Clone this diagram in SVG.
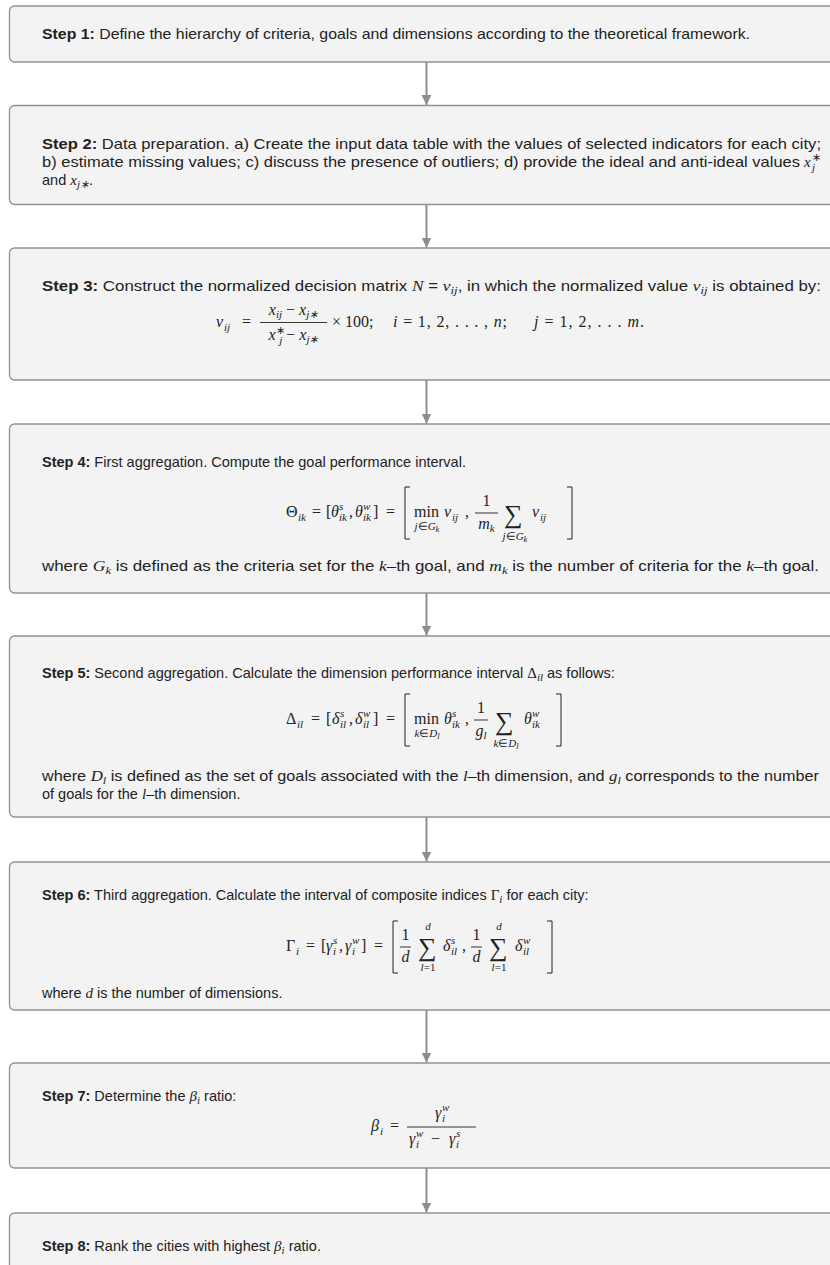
<svg xmlns="http://www.w3.org/2000/svg" width="830" height="1265" viewBox="0 0 830 1265">
<defs>
<style>
.box{fill:#f3f3f3;stroke:#929292;stroke-width:1.3}
.n{font-family:"Liberation Sans",Arial,sans-serif;font-size:14.5px;fill:#222}
.b{font-weight:bold}
.f{font-family:"Liberation Serif","Times New Roman",serif;font-size:16px;fill:#222}
.fi{font-family:"Liberation Serif","Times New Roman",serif;font-style:italic}
.im{font-size:15px}
.sc{font-size:11px}
.ss{font-size:8.5px}
.sum{font-size:26px}
.bar{stroke:#222;stroke-width:0.9}
.brk{fill:none;stroke:#222;stroke-width:1}
.conn{stroke:#8e8e8e;stroke-width:2;fill:none}
</style>
<marker id="ah" markerUnits="userSpaceOnUse" markerWidth="11" markerHeight="11" refX="10" refY="5.5" orient="auto" viewBox="0 0 11 11"><path d="M0,0.5 L10,5.5 L0,10.5 z" fill="#8e8e8e"/></marker>
</defs>
<rect width="830" height="1265" fill="#ffffff"/>

<g id="connectors">
<line class="conn" x1="426.5" y1="62" x2="426.5" y2="105" marker-end="url(#ah)"/>
<line class="conn" x1="426.5" y1="204.5" x2="426.5" y2="247.5" marker-end="url(#ah)"/>
<line class="conn" x1="426.5" y1="380" x2="426.5" y2="423.5" marker-end="url(#ah)"/>
<line class="conn" x1="426.5" y1="593" x2="426.5" y2="635.5" marker-end="url(#ah)"/>
<line class="conn" x1="426.5" y1="817" x2="426.5" y2="861.5" marker-end="url(#ah)"/>
<line class="conn" x1="426.5" y1="1010" x2="426.5" y2="1062.5" marker-end="url(#ah)"/>
<line class="conn" x1="426.5" y1="1168" x2="426.5" y2="1212.5" marker-end="url(#ah)"/>
</g>

<g id="step1">
<rect class="box" x="9.5" y="6" width="840" height="56" rx="5"/>
<text class="n" x="42" y="39" textLength="708" lengthAdjust="spacingAndGlyphs"><tspan class="b">Step 1:</tspan> Define the hierarchy of criteria, goals and dimensions according to the theoretical framework.</text>
</g>

<g id="step2">
<rect class="box" x="9.5" y="105.5" width="840" height="99" rx="5"/>
<text class="n" x="42" y="149" textLength="779" lengthAdjust="spacingAndGlyphs"><tspan class="b">Step 2:</tspan> Data preparation. a) Create the input data table with the values of selected indicators for each city;</text>
<text class="n" x="42" y="167" textLength="758" lengthAdjust="spacingAndGlyphs">b) estimate missing values; c) discuss the presence of outliers; d) provide the ideal and anti-ideal values</text>
<text class="f fi im" x="804" y="167">x</text>
<text class="f sc" x="812" y="161">∗</text>
<text class="f fi sc" x="812" y="171">j</text>
<text class="n" x="42" y="185">and <tspan class="fi im">x</tspan><tspan class="fi sc" dy="3">j∗</tspan><tspan dy="-3">.</tspan></text>
</g>

<g id="step3">
<rect class="box" x="9.5" y="248" width="840" height="132" rx="5"/>
<text class="n" x="42" y="291" textLength="779" lengthAdjust="spacingAndGlyphs"><tspan class="b">Step 3:</tspan> Construct the normalized decision matrix <tspan class="fi im">N</tspan> = <tspan class="fi im">ν</tspan><tspan class="fi sc" dy="3">ij</tspan><tspan dy="-3">, in which the normalized value </tspan><tspan class="fi im">ν</tspan><tspan class="fi sc" dy="3">ij</tspan><tspan dy="-3"> is obtained by:</tspan></text>
<text class="f fi" x="216" y="327">ν</text>
<text class="f fi sc" x="224" y="331">ij</text>
<text class="f" x="242" y="327">=</text>
<line class="bar" x1="260" y1="322.5" x2="327" y2="322.5"/>
<text class="f" x="293.5" y="315" text-anchor="middle"><tspan class="fi">x</tspan><tspan class="fi sc" dy="3">ij</tspan><tspan dy="-3"> − </tspan><tspan class="fi">x</tspan><tspan class="fi sc" dy="3">j∗</tspan></text>
<text class="f" x="293.5" y="340" text-anchor="middle"><tspan class="fi">x</tspan><tspan class="sc" dy="-6">∗</tspan><tspan class="fi sc" dx="-5.5" dy="10">j</tspan><tspan dy="-4"> − </tspan><tspan class="fi">x</tspan><tspan class="fi sc" dy="3">j∗</tspan></text>
<text class="f" x="332" y="327">× 100;</text>
<text class="f" x="393" y="327" textLength="114"><tspan class="fi">i</tspan> = 1, 2, . . . , <tspan class="fi">n</tspan>;</text>
<text class="f" x="534" y="327" textLength="110"><tspan class="fi">j</tspan> = 1, 2, . . . <tspan class="fi">m</tspan>.</text>
</g>

<g id="step4">
<rect class="box" x="9.5" y="424" width="840" height="169" rx="5"/>
<text class="n" x="42" y="467"><tspan class="b">Step 4:</tspan> First aggregation. Compute the goal performance interval.</text>
<text class="f" x="286" y="517">Θ</text>
<text class="f fi sc" x="298" y="521">ik</text>
<text class="f" x="312" y="517">=</text>
<text class="f" x="326" y="517">[</text>
<text class="f fi" x="331" y="517">θ</text>
<text class="f fi sc" x="339" y="510">s</text>
<text class="f fi sc" x="339" y="521">ik</text>
<text class="f" x="349" y="517">,</text>
<text class="f fi" x="355" y="517">θ</text>
<text class="f fi sc" x="363" y="510">w</text>
<text class="f fi sc" x="363" y="521">ik</text>
<text class="f" x="373" y="517">]</text>
<text class="f" x="386" y="517">=</text>
<path class="brk" d="M410,487 H405 V539 H410"/>
<text class="f" x="414" y="517">min</text>
<text class="f sc" x="427" y="530" text-anchor="middle"><tspan class="fi">j</tspan>∈<tspan class="fi">G</tspan><tspan class="fi ss" dy="2">k</tspan></text>
<text class="f fi" x="444" y="517">ν</text>
<text class="f fi sc" x="452" y="521">ij</text>
<text class="f" x="465" y="517">,</text>
<line class="bar" x1="475" y1="513" x2="498" y2="513"/>
<text class="f" x="486.5" y="506" text-anchor="middle">1</text>
<text class="f" x="486.5" y="529" text-anchor="middle"><tspan class="fi">m</tspan><tspan class="fi sc" dy="3">k</tspan></text>
<text class="f sum" x="504" y="523">∑</text>
<text class="f sc" x="515" y="540" text-anchor="middle"><tspan class="fi">j</tspan>∈<tspan class="fi">G</tspan><tspan class="fi ss" dy="2">k</tspan></text>
<text class="f fi" x="532" y="517">ν</text>
<text class="f fi sc" x="540" y="521">ij</text>
<path class="brk" d="M567,487 H572 V539 H567"/>
<text class="n" x="42" y="571" textLength="777" lengthAdjust="spacingAndGlyphs">where <tspan class="fi im">G</tspan><tspan class="fi sc" dy="3">k</tspan><tspan dy="-3"> is defined as the criteria set for the </tspan><tspan class="fi im">k</tspan>–th goal, and <tspan class="fi im">m</tspan><tspan class="fi sc" dy="3">k</tspan><tspan dy="-3"> is the number of criteria for the </tspan><tspan class="fi im">k</tspan>–th goal.</text>
</g>

<g id="step5">
<rect class="box" x="9.5" y="636" width="840" height="181" rx="5"/>
<text class="n" x="42" y="678"><tspan class="b">Step 5:</tspan> Second aggregation. Calculate the dimension performance interval <tspan class="f im">Δ</tspan><tspan class="fi sc" dy="3">il</tspan><tspan dy="-3"> as follows:</tspan></text>
<text class="f" x="286" y="724">Δ</text>
<text class="f fi sc" x="297" y="728">il</text>
<text class="f" x="311" y="724">=</text>
<text class="f" x="326" y="724">[</text>
<text class="f fi" x="332" y="724">δ</text>
<text class="f fi sc" x="340" y="717">s</text>
<text class="f fi sc" x="340" y="728">il</text>
<text class="f" x="349" y="724">,</text>
<text class="f fi" x="355" y="724">δ</text>
<text class="f fi sc" x="363" y="717">w</text>
<text class="f fi sc" x="363" y="728">il</text>
<text class="f" x="373" y="724">]</text>
<text class="f" x="386" y="724">=</text>
<path class="brk" d="M410,694 H405 V746 H410"/>
<text class="f" x="414" y="724">min</text>
<text class="f sc" x="427" y="737" text-anchor="middle"><tspan class="fi">k</tspan>∈<tspan class="fi">D</tspan><tspan class="fi ss" dy="2">l</tspan></text>
<text class="f fi" x="444" y="724">θ</text>
<text class="f fi sc" x="452" y="717">s</text>
<text class="f fi sc" x="452" y="728">ik</text>
<text class="f" x="465" y="724">,</text>
<line class="bar" x1="474" y1="720" x2="488" y2="720"/>
<text class="f" x="481" y="713" text-anchor="middle">1</text>
<text class="f" x="481" y="736" text-anchor="middle"><tspan class="fi">g</tspan><tspan class="fi sc" dy="3">l</tspan></text>
<text class="f sum" x="495" y="730">∑</text>
<text class="f sc" x="506" y="747" text-anchor="middle"><tspan class="fi">k</tspan>∈<tspan class="fi">D</tspan><tspan class="fi ss" dy="2">l</tspan></text>
<text class="f fi" x="524" y="724">θ</text>
<text class="f fi sc" x="532" y="717">w</text>
<text class="f fi sc" x="532" y="728">ik</text>
<path class="brk" d="M556,694 H561 V746 H556"/>
<text class="n" x="42" y="781" textLength="777" lengthAdjust="spacingAndGlyphs">where <tspan class="fi im">D</tspan><tspan class="fi sc" dy="3">l</tspan><tspan dy="-3"> is defined as the set of goals associated with the </tspan><tspan class="fi im">l</tspan>–th dimension, and <tspan class="fi im">g</tspan><tspan class="fi sc" dy="3">l</tspan><tspan dy="-3"> corresponds to the number</tspan></text>
<text class="n" x="42" y="799">of goals for the <tspan class="fi im">l</tspan>–th dimension.</text>
</g>

<g id="step6">
<rect class="box" x="9.5" y="862" width="840" height="148" rx="5"/>
<text class="n" x="42" y="900"><tspan class="b">Step 6:</tspan> Third aggregation. Calculate the interval of composite indices <tspan class="f im">Γ</tspan><tspan class="fi sc" dy="3">i</tspan><tspan dy="-3"> for each city:</tspan></text>
<text class="f" x="286" y="951">Γ</text>
<text class="f fi sc" x="296" y="955">i</text>
<text class="f" x="306" y="951">=</text>
<text class="f" x="321" y="951">[</text>
<text class="f fi" x="326" y="951">γ</text>
<text class="f fi sc" x="333" y="944">s</text>
<text class="f fi sc" x="333" y="955">i</text>
<text class="f" x="339" y="951">,</text>
<text class="f fi" x="345" y="951">γ</text>
<text class="f fi sc" x="352" y="944">w</text>
<text class="f fi sc" x="352" y="955">i</text>
<text class="f" x="361" y="951">]</text>
<text class="f" x="374" y="951">=</text>
<path class="brk" d="M398,921 H393 V973 H398"/>
<line class="bar" x1="400" y1="947" x2="411" y2="947"/>
<text class="f" x="405.5" y="940" text-anchor="middle">1</text>
<text class="f fi" x="405.5" y="962" text-anchor="middle">d</text>
<text class="f sum" x="418" y="956">∑</text>
<text class="f fi sc" x="428" y="930" text-anchor="middle">d</text>
<text class="f sc" x="428" y="971" text-anchor="middle"><tspan class="fi">l</tspan>=1</text>
<text class="f fi" x="443" y="951">δ</text>
<text class="f fi sc" x="451" y="944">s</text>
<text class="f fi sc" x="451" y="955">il</text>
<text class="f" x="462" y="951">,</text>
<line class="bar" x1="471" y1="947" x2="482" y2="947"/>
<text class="f" x="476.5" y="940" text-anchor="middle">1</text>
<text class="f fi" x="476.5" y="962" text-anchor="middle">d</text>
<text class="f sum" x="489" y="956">∑</text>
<text class="f fi sc" x="499" y="930" text-anchor="middle">d</text>
<text class="f sc" x="499" y="971" text-anchor="middle"><tspan class="fi">l</tspan>=1</text>
<text class="f fi" x="515" y="951">δ</text>
<text class="f fi sc" x="523" y="944">w</text>
<text class="f fi sc" x="523" y="955">il</text>
<path class="brk" d="M547,921 H552 V973 H547"/>
<text class="n" x="42" y="998">where <tspan class="fi im">d</tspan> is the number of dimensions.</text>
</g>

<g id="step7">
<rect class="box" x="9.5" y="1063" width="840" height="105" rx="5"/>
<text class="n" x="42" y="1101"><tspan class="b">Step 7:</tspan> Determine the <tspan class="fi im">β</tspan><tspan class="fi sc" dy="3">i</tspan><tspan dy="-3"> ratio:</tspan></text>
<text class="f fi" x="371" y="1131">β</text>
<text class="f fi sc" x="380" y="1135">i</text>
<text class="f" x="390" y="1131">=</text>
<line class="bar" x1="407" y1="1127" x2="476" y2="1127"/>
<text class="f fi" x="435" y="1118">γ</text>
<text class="f fi sc" x="442" y="1111">w</text>
<text class="f fi sc" x="442" y="1122">i</text>
<text class="f fi" x="409" y="1144">γ</text>
<text class="f fi sc" x="416" y="1137">w</text>
<text class="f fi sc" x="416" y="1148">i</text>
<text class="f" x="431" y="1144">−</text>
<text class="f fi" x="449" y="1144">γ</text>
<text class="f fi sc" x="456" y="1137">s</text>
<text class="f fi sc" x="456" y="1148">i</text>
</g>

<g id="step8">
<rect class="box" x="9.5" y="1213" width="840" height="70" rx="5"/>
<text class="n" x="42" y="1251"><tspan class="b">Step 8:</tspan> Rank the cities with highest <tspan class="fi im">β</tspan><tspan class="fi sc" dy="3">i</tspan><tspan dy="-3"> ratio.</tspan></text>
</g>
</svg>
